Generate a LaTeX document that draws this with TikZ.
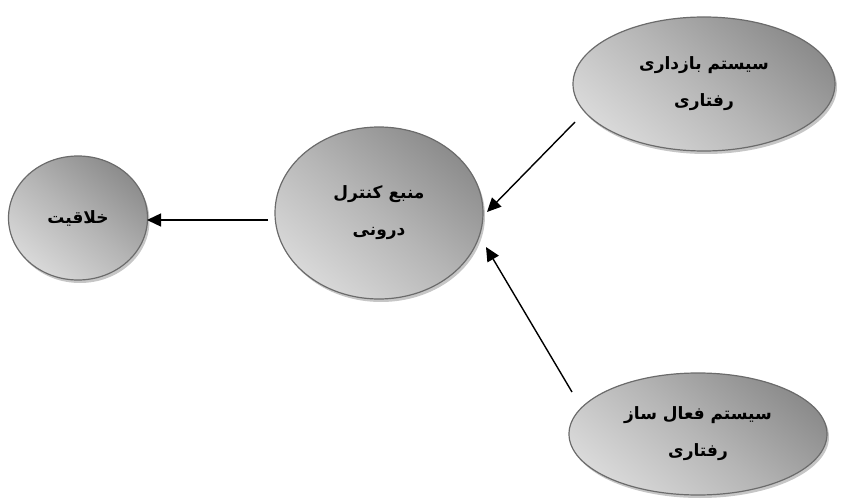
\documentclass[tikz,border=0pt]{standalone}
\usepackage{fontspec}
\newfontfamily\arabicfont[Script=Arabic]{DejaVu Sans}
\TeXXeTstate=1
\usetikzlibrary{shapes.geometric,shadows,arrows.meta}
\begin{document}
\begin{tikzpicture}[x=1pt,y=-1pt,
  bubble/.style={ellipse, draw=black!58, line width=1.2pt, inner sep=0pt,
    top color=gray!90, bottom color=gray!30, middle color=gray!58, shading angle=-40,
    drop shadow={shadow xshift=2pt, shadow yshift=-3pt, fill=gray!45, opacity=1},
    font=\arabicfont\bfseries\fontsize{17}{37}\selectfont, align=center},
  conn/.style={line width=1.4pt, -{Triangle[length=14pt,width=13pt]}}]
\useasboundingbox (0,0) rectangle (855,500);
\node[bubble, minimum width=139pt, minimum height=124pt] (khal) at (78,218) {\beginR خلاقیت\endR};
\node[bubble, minimum width=208pt, minimum height=172pt] (manba) at (379,213) {\beginR منبع کنترل\endR\\ \beginR درونی\endR};
\node[bubble, minimum width=262pt, minimum height=134pt] (bazd) at (704,84) {\beginR سیستم بازداری\endR\\ \beginR رفتاری\endR};
\node[bubble, minimum width=258pt, minimum height=122pt] (faal) at (698,434) {\beginR سیستم فعال ساز\endR\\ \beginR رفتاری\endR};
\coordinate (s1) at (268,220);
\coordinate (e1) at (147,220);
\coordinate (s2) at (575,122);
\coordinate (e2) at (487,212);
\coordinate (s3) at (572,392);
\coordinate (e3) at (486,247);
\draw[conn] (s1) -- (e1);
\draw[conn] (s2) -- (e2);
\draw[conn] (s3) -- (e3);
\end{tikzpicture}
\end{document}
